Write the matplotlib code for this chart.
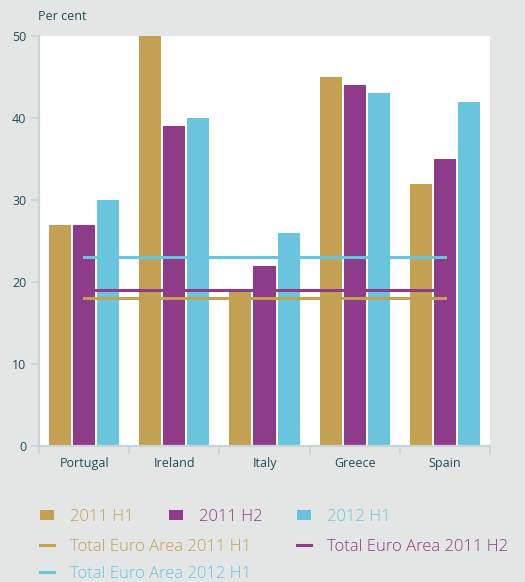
import numpy as np
import matplotlib.pyplot as plt

# data
countries = ['Portugal', 'Ireland', 'Italy', 'Greece', 'Spain']
h1_2011 = [27, 50, 19, 45, 32]
h2_2011 = [27, 39, 22, 44, 35]
h1_2012 = [30, 40, 26, 43, 42]
euro_h1_2011 = 18
euro_h2_2011 = 19
euro_h1_2012 = 23

gold = '#c4a052'
purple = '#8e3b89'
cyan = '#69c5de'
txt = '#1e4d5c'
axis_col = '#c9d4d9'
bg = '#e4e6e5'

plt.rcParams['font.family'] = ['Open Sans', 'DejaVu Sans']

fig = plt.figure(figsize=(5.25, 5.82), dpi=100, facecolor=bg)
ax = fig.add_axes([39 / 525, 1 - 446 / 582, 451 / 525, 410 / 582])
ax.set_facecolor('white')

x = np.arange(len(countries))
w = 0.245
b1 = ax.bar(x - w - 0.022, h1_2011, w, color=gold, label='2011 H1')
b2 = ax.bar(x, h2_2011, w, color=purple, label='2011 H2')
b3 = ax.bar(x + w + 0.022, h1_2012, w, color=cyan, label='2012 H1')

l1, = ax.plot([x[0], x[-1]], [euro_h1_2011] * 2, color=gold, lw=2.2,
              label='Total Euro Area 2011 H1')
l2, = ax.plot([x[0] + 0.12, x[-1] - 0.12], [euro_h2_2011] * 2, color=purple, lw=2.2,
              label='Total Euro Area 2011 H2')
l3, = ax.plot([x[0], x[-1]], [euro_h1_2012] * 2, color=cyan, lw=2.2,
              label='Total Euro Area 2012 H1')

ax.set_xlim(-0.5, 4.5)
ax.set_ylim(0, 50)
ax.set_yticks(range(0, 51, 10))
ax.set_xticks(x)
ax.set_xticklabels(countries)
ax.set_xticks(np.arange(-0.5, 5, 1), minor=True)
ax.tick_params(axis='x', which='major', length=0, pad=8, labelsize=9, labelcolor=txt)
ax.tick_params(axis='x', which='minor', length=6, width=1.2, color=axis_col)
ax.tick_params(axis='y', length=6, width=1.2, color=axis_col, labelsize=9,
               labelcolor=txt, pad=3)
for s in ['top', 'right']:
    ax.spines[s].set_visible(False)
for s in ['left', 'bottom']:
    ax.spines[s].set_color(axis_col)
    ax.spines[s].set_linewidth(1.6)

fig.text(38 / 525, 1 - 16 / 582, 'Per cent', fontsize=9, color=txt, va='center')

# legend rows
def row(handles, cols, y, spacing):
    leg = fig.legend(handles=handles, loc='center left',
                     bbox_to_anchor=(40 / 525, 1 - y / 582), ncol=len(handles),
                     frameon=False, fontsize=12, handlelength=0.85, handleheight=0.6,
                     handletextpad=0.95, columnspacing=spacing, labelcolor=cols,
                     borderpad=0, borderaxespad=0)
    for t in leg.get_texts():
        t.set_fontweight('light')
    return leg

row([b1, b2, b3], [gold, purple, cyan], 517, 2.1)
row([l1, l2], [gold, purple], 547, 2.75)
row([l3], [cyan], 574, 2.0)

fig.savefig('out.png', dpi=100, facecolor=bg)
